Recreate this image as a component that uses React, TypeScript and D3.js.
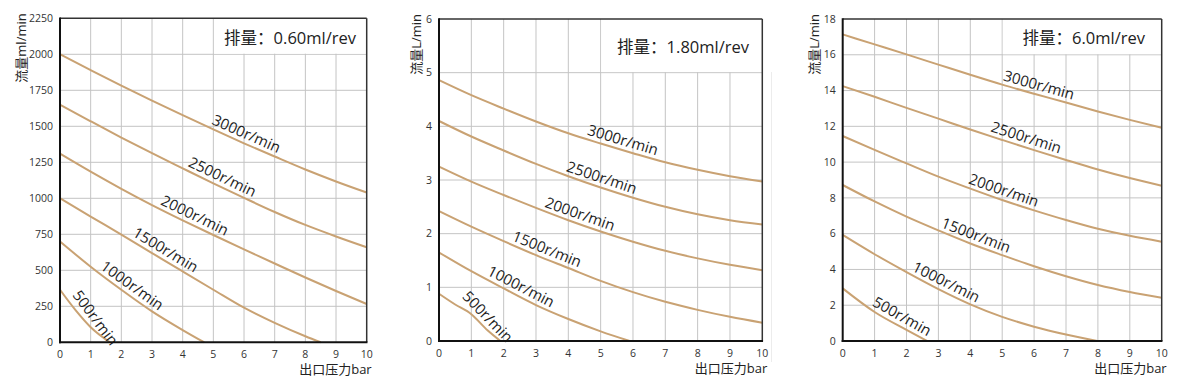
import React from 'react';
import * as d3 from 'd3';

// shared axis values
const PRESSURE_TICKS = [0, 1, 2, 3, 4, 5, 6, 7, 8, 9, 10];
const SPEED_LABELS = ['500r/min', '1000r/min', '1500r/min', '2000r/min', '2500r/min', '3000r/min'];

// 0.60 ml/rev, flow in ml/min, [pressure bar, flow]
const FLOW_060_500 = [[0, 365], [0.5, 225], [1, 105], [1.63, 0]];
const FLOW_060_1000 = [[0, 700], [1, 525], [2, 365], [3, 215], [4, 85], [4.7, 0]];
const FLOW_060_1500 = [[0, 1000], [1, 873], [2, 748], [3, 620], [4, 492], [5, 365], [6, 240], [7, 135], [8, 42], [8.5, 0]];
const FLOW_060_2000 = [[0, 1310], [1, 1185], [2, 1066], [3, 953], [4, 847], [5, 745], [6, 645], [7, 547], [8, 450], [9, 356], [10, 266]];
const FLOW_060_2500 = [[0, 1650], [1, 1535], [2, 1422], [3, 1313], [4, 1208], [5, 1104], [6, 1003], [7, 905], [8, 815], [9, 735], [10, 660]];
const FLOW_060_3000 = [[0, 2000], [1, 1890], [2, 1782], [3, 1678], [4, 1577], [5, 1478], [6, 1382], [7, 1290], [8, 1200], [9, 1117], [10, 1040]];
const Y_TICKS_060 = [0, 250, 500, 750, 1000, 1250, 1500, 1750, 2000, 2250];
const LABEL_X_060 = [0.9, 2.17, 3.28, 4.26, 5.16, 5.95];

// 1.80 ml/rev, flow in L/min
const FLOW_180_500 = [[0, 0.88], [0.5, 0.68], [1, 0.5], [1.5, 0.2], [1.9, 0]];
const FLOW_180_1000 = [[0, 1.65], [1, 1.3], [2, 0.98], [3, 0.67], [4, 0.41], [5, 0.18], [5.9, 0]];
const FLOW_180_1500 = [[0, 2.42], [1, 2.13], [2, 1.86], [3, 1.6], [4, 1.36], [5, 1.12], [6, 0.91], [7, 0.73], [8, 0.58], [9, 0.45], [10, 0.34]];
const FLOW_180_2000 = [[0, 3.25], [1, 2.97], [2, 2.72], [3, 2.48], [4, 2.25], [5, 2.04], [6, 1.85], [7, 1.68], [8, 1.54], [9, 1.42], [10, 1.32]];
const FLOW_180_2500 = [[0, 4.1], [1, 3.81], [2, 3.55], [3, 3.3], [4, 3.07], [5, 2.86], [6, 2.67], [7, 2.5], [8, 2.36], [9, 2.25], [10, 2.17]];
const FLOW_180_3000 = [[0, 4.86], [1, 4.58], [2, 4.33], [3, 4.09], [4, 3.87], [5, 3.68], [6, 3.5], [7, 3.33], [8, 3.19], [9, 3.07], [10, 2.97]];
const Y_TICKS_180 = [0, 1, 2, 3, 4, 5, 6];
const LABEL_X_180 = [1.29, 2.4, 3.23, 4.26, 4.94, 5.6];

// 6.0 ml/rev, flow in L/min
const FLOW_600_500 = [[0, 2.94], [1, 1.62], [2, 0.62], [2.65, 0]];
const FLOW_600_1000 = [[0, 5.93], [1, 4.85], [2, 3.85], [3, 2.9], [4, 2.05], [5, 1.35], [6, 0.8], [7, 0.36], [7.98, 0]];
const FLOW_600_1500 = [[0, 8.72], [1, 7.8], [2, 6.95], [3, 6.18], [4, 5.45], [5, 4.8], [6, 4.18], [7, 3.62], [8, 3.13], [9, 2.74], [10, 2.42]];
const FLOW_600_2000 = [[0, 11.46], [1, 10.68], [2, 9.93], [3, 9.19], [4, 8.52], [5, 7.88], [6, 7.3], [7, 6.76], [8, 6.27], [9, 5.88], [10, 5.55]];
const FLOW_600_2500 = [[0, 14.25], [1, 13.65], [2, 13.03], [3, 12.43], [4, 11.82], [5, 11.24], [6, 10.67], [7, 10.12], [8, 9.59], [9, 9.11], [10, 8.68]];
const FLOW_600_3000 = [[0, 17.14], [1, 16.58], [2, 16.02], [3, 15.45], [4, 14.88], [5, 14.33], [6, 13.82], [7, 13.33], [8, 12.83], [9, 12.36], [10, 11.92]];
const Y_TICKS_600 = [0, 2, 4, 6, 8, 10, 12, 14, 16, 18];
const LABEL_X_600 = [1.71, 3.11, 4.07, 4.95, 5.66, 6.07];

const FONT = '"Open Sans", "Noto Sans CJK SC", sans-serif';
const CURVE = '#c9a273';

function interp(points, x) {
  for (let i = 0; i < points.length - 1; i++) {
    const [x0, y0] = points[i];
    const [x1, y1] = points[i + 1];
    if (x >= x0 && x <= x1) return y0 + (y1 - y0) * (x - x0) / (x1 - x0);
  }
  return points[points.length - 1][1];
}

function Panel({ left, right, top, bottom, yTicks, series, labelX, firstTilt, title, titleEnd, titleBase, yTitle, yTitleX }) {
  const yMax = yTicks[yTicks.length - 1];
  const x = d3.scaleLinear().domain([0, 10]).range([left, right]);
  const y = d3.scaleLinear().domain([0, yMax]).range([bottom, top]);
  const line = d3.line().x(d => x(d[0])).y(d => y(d[1])).curve(d3.curveMonotoneX);
  const boxTop = yTicks[yTicks.length - 2];

  return (
    <g fontFamily={FONT}>
      {PRESSURE_TICKS.slice(1, -1).map(t => (
        <line key={'gx' + t} x1={x(t)} x2={x(t)} y1={top} y2={bottom} stroke="#c4c4c4" strokeWidth={1} />
      ))}
      {yTicks.slice(1, -1).map(t => (
        <line key={'gy' + t} x1={left} x2={right} y1={y(t)} y2={y(t)} stroke="#c4c4c4" strokeWidth={1} />
      ))}
      <rect x={x(5) + 0.6} y={top} width={right - x(5) - 0.6} height={y(boxTop) - top - 0.6} fill="#fff" />
      <text x={titleEnd} y={titleBase} textAnchor="end" fontSize={16.5} fill="#222">{title}</text>

      {series.map((pts, i) => (
        <path key={'c' + i} d={line(pts)} fill="none" stroke={CURVE} strokeWidth={2} />
      ))}
      {series.map((pts, i) => {
        const lx = labelX[i];
        const xa = Math.max(0, lx - 0.35);
        const xb = lx + 0.35;
        const dx = x(xb) - x(xa);
        const dy = y(interp(pts, xb)) - y(interp(pts, xa));
        const ang = Math.atan2(dy, dx) + (i === 0 ? (firstTilt * Math.PI) / 180 : 0);
        const off = 4.5;
        const px = x(lx) + Math.sin(ang) * off;
        const py = y(interp(pts, lx)) - Math.cos(ang) * off;
        return (
          <text key={'l' + i} transform={`translate(${px},${py}) rotate(${(ang * 180) / Math.PI})`}
            textAnchor="middle" fontSize={15} fill="#1e1e1e">{SPEED_LABELS[i]}</text>
        );
      })}

      <line x1={left} x2={right} y1={top} y2={top} stroke="#333" strokeWidth={1.5} />
      <line x1={right} x2={right} y1={top} y2={bottom} stroke="#333" strokeWidth={1.5} />
      <line x1={left} x2={left} y1={top - 0.75} y2={bottom + 1} stroke="#111" strokeWidth={2} />
      <line x1={left - 1} x2={right + 0.75} y1={bottom} y2={bottom} stroke="#111" strokeWidth={2} />

      {yTicks.map(t => (
        <text key={'ty' + t} x={left - 7} y={y(t)} dy="0.35em" textAnchor="end" fontSize={10.5} fill="#333">{t}</text>
      ))}
      {PRESSURE_TICKS.map(t => (
        <text key={'tx' + t} x={x(t)} y={bottom + 16} textAnchor="middle" fontSize={10.5} fill="#333">{t}</text>
      ))}
      <text x={right + 5} y={bottom + 32} textAnchor="end" fontSize={13} fill="#222">出口压力bar</text>
      <text transform={`translate(${yTitleX},${top - 5}) rotate(-90)`} textAnchor="end" dominantBaseline="central"
        fontSize={13} fill="#222">{yTitle}</text>
    </g>
  );
}

export default function App() {
  return (
    <svg width={1181} height={389} style={{ position: 'absolute', left: 0, top: 0, background: '#fff' }}>
      <rect width={1181} height={389} fill="#fff" />
      <Panel left={60} right={366.7} top={18.3} bottom={342.3} yTicks={Y_TICKS_060}
        series={[FLOW_060_500, FLOW_060_1000, FLOW_060_1500, FLOW_060_2000, FLOW_060_2500, FLOW_060_3000]}
        labelX={LABEL_X_060} firstTilt={8} title="排量：0.60ml/rev" titleEnd={356} titleBase={44}
        yTitle="流量ml/min" yTitleX={21} />
      <line x1={771.5} x2={771.5} y1={72} y2={362} stroke="#ececec" strokeWidth={1} />
      <Panel left={439} right={762.3} top={19} bottom={341} yTicks={Y_TICKS_180}
        series={[FLOW_180_500, FLOW_180_1000, FLOW_180_1500, FLOW_180_2000, FLOW_180_2500, FLOW_180_3000]}
        labelX={LABEL_X_180} firstTilt={3} title="排量：1.80ml/rev" titleEnd={749} titleBase={53}
        yTitle="流量L/min" yTitleX={416} />
      <Panel left={842.7} right={1161.7} top={19} bottom={341} yTicks={Y_TICKS_600}
        series={[FLOW_600_500, FLOW_600_1000, FLOW_600_1500, FLOW_600_2000, FLOW_600_2500, FLOW_600_3000]}
        labelX={LABEL_X_600} firstTilt={0} title="排量：6.0ml/rev" titleEnd={1145} titleBase={44}
        yTitle="流量L/min" yTitleX={814} />
    </svg>
  );
}
